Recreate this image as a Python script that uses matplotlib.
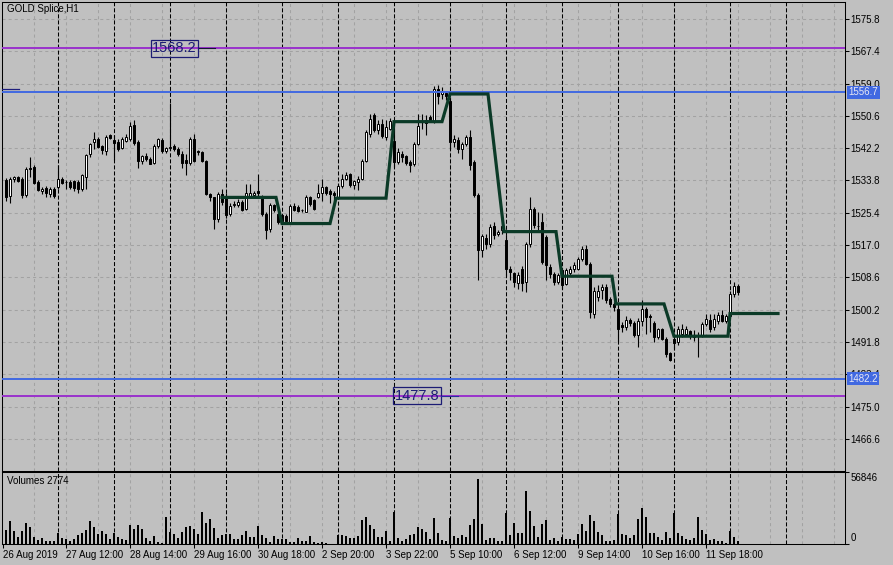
import matplotlib
matplotlib.use("Agg")
import matplotlib.pyplot as plt
import numpy as np

# hourly candles (bar index 0 = first visible bar)
opens = [1533.9, 1529.7, 1534.1, 1534.6, 1534.2, 1530.0, 1536.9, 1537.4, 1533.5, 1531.0,
         1531.9, 1530.4, 1531.5, 1532.0, 1534.3, 1533.3, 1533.5, 1533.6, 1533.3, 1531.7,
         1534.8, 1540.6, 1543.7, 1544.7, 1542.7, 1541.5, 1545.5, 1544.3, 1543.8, 1542.3,
         1544.1, 1544.6, 1548.2, 1543.7, 1538.9, 1540.2, 1539.3, 1538.4, 1542.8, 1544.3,
         1541.5, 1542.2, 1542.7, 1541.9, 1540.8, 1539.1, 1538.4, 1544.7, 1541.3, 1541.1,
         1538.9, 1530.3, 1529.4, 1523.7, 1530.4, 1529.6, 1525.2, 1527.5, 1527.4, 1528.3,
         1526.5, 1529.8, 1530.0, 1531.1, 1529.6, 1525.2, 1521.1, 1527.4, 1525.2, 1524.8,
         1524.5, 1523.1, 1527.1, 1527.0, 1526.1, 1525.7, 1529.4, 1528.7, 1529.6, 1530.6,
         1532.0, 1531.1, 1530.6, 1529.4, 1532.3, 1534.1, 1535.5, 1532.6, 1533.5, 1534.1,
         1538.9, 1546.0, 1550.8, 1546.9, 1548.5, 1545.2, 1547.3, 1544.0, 1538.7, 1540.8,
         1540.1, 1538.7, 1538.0, 1543.4, 1549.1, 1549.5, 1550.4, 1549.3, 1557.7, 1556.3,
         1556.6, 1554.5, 1543.9, 1544.3, 1542.1, 1543.3, 1545.2, 1538.7, 1530.0, 1515.7,
         1518.9, 1517.2, 1521.9, 1519.8, 1520.9, 1518.3, 1510.9, 1509.8, 1507.2, 1510.9,
         1507.5, 1517.4, 1526.3, 1522.0, 1523.1, 1519.2, 1511.4, 1509.6, 1507.5, 1510.5,
         1507.0, 1509.8, 1510.7, 1510.9, 1513.3, 1516.1, 1512.0, 1499.2, 1503.6, 1505.3,
         1506.2, 1503.1, 1501.8, 1500.3, 1496.2, 1495.6, 1497.5, 1496.8, 1493.6, 1497.3,
         1500.3, 1498.4, 1496.8, 1493.0, 1495.1, 1492.7, 1489.0, 1492.5, 1491.9, 1494.0,
         1494.0, 1494.7, 1493.6, 1493.6, 1493.6, 1496.5, 1497.5, 1495.6, 1497.3, 1498.8,
         1497.3, 1498.5, 1504.4, 1506.3]
highs = [1534.5, 1534.6, 1535.0, 1535.0, 1534.6, 1537.2, 1540.0, 1537.8, 1533.8, 1532.0,
         1532.4, 1532.2, 1532.0, 1537.8, 1534.8, 1533.8, 1533.8, 1534.0, 1533.8, 1535.6,
         1540.8, 1543.6, 1546.5, 1545.2, 1543.0, 1545.6, 1545.9, 1545.5, 1544.6, 1545.0,
         1546.0, 1549.0, 1549.5, 1544.2, 1540.5, 1541.0, 1539.8, 1543.4, 1544.8, 1544.8,
         1542.5, 1553.9, 1543.2, 1542.5, 1541.5, 1540.8, 1545.0, 1546.0, 1541.8, 1541.5,
         1539.2, 1530.6, 1529.6, 1530.8, 1531.5, 1530.5, 1528.0, 1528.5, 1529.0, 1528.6,
         1533.0, 1533.0, 1531.0, 1535.5, 1530.0, 1525.6, 1528.0, 1527.8, 1525.6, 1525.2,
         1525.0, 1527.6, 1528.0, 1527.4, 1526.5, 1530.0, 1529.8, 1529.0, 1533.0, 1534.1,
         1532.4, 1531.5, 1531.0, 1533.0, 1535.5, 1536.0, 1535.8, 1534.0, 1535.0, 1539.3,
         1547.0, 1551.2, 1551.4, 1549.5, 1549.8, 1549.5, 1550.0, 1549.0, 1542.2, 1541.5,
         1540.5, 1539.0, 1543.8, 1551.0, 1551.2, 1550.8, 1550.8, 1558.5, 1558.6, 1558.0,
         1557.0, 1555.5, 1545.5, 1545.0, 1543.8, 1545.6, 1546.9, 1539.0, 1530.5, 1520.0,
         1520.0, 1522.4, 1523.0, 1521.0, 1522.2, 1519.5, 1511.5, 1510.0, 1510.0, 1511.5,
         1517.8, 1529.6, 1527.0, 1525.7, 1525.4, 1519.5, 1512.0, 1510.0, 1509.7, 1511.0,
         1511.0, 1511.5, 1512.5, 1514.0, 1516.8, 1517.0, 1512.5, 1506.0, 1506.5, 1507.0,
         1506.8, 1503.5, 1502.2, 1500.8, 1497.0, 1498.5, 1498.0, 1497.2, 1498.0, 1502.8,
         1501.0, 1499.0, 1497.3, 1495.5, 1495.5, 1493.0, 1489.3, 1493.0, 1496.0, 1496.6,
         1496.0, 1495.0, 1495.0, 1494.5, 1497.0, 1499.2, 1499.0, 1499.0, 1499.5, 1500.2,
         1499.0, 1505.0, 1507.5, 1506.8]
lows = [1528.5, 1528.0, 1533.5, 1533.3, 1529.3, 1529.5, 1534.6, 1533.0, 1531.0, 1530.2,
        1529.6, 1529.6, 1529.3, 1531.7, 1533.0, 1531.7, 1531.5, 1531.0, 1530.5, 1531.0,
        1531.7, 1540.0, 1542.1, 1542.3, 1540.6, 1540.4, 1544.7, 1539.1, 1541.5, 1542.0,
        1543.8, 1544.0, 1543.0, 1537.0, 1538.0, 1538.8, 1538.0, 1538.0, 1542.3, 1541.0,
        1541.0, 1541.6, 1541.5, 1540.2, 1537.0, 1535.2, 1537.8, 1538.5, 1540.5, 1538.5,
        1530.0, 1528.5, 1521.3, 1523.0, 1527.5, 1524.0, 1524.5, 1527.0, 1526.8, 1525.8,
        1526.0, 1529.5, 1529.5, 1529.6, 1524.5, 1518.7, 1520.5, 1525.5, 1522.4, 1523.0,
        1522.9, 1522.8, 1525.8, 1525.6, 1525.7, 1525.5, 1527.2, 1526.0, 1529.2, 1528.5,
        1530.0, 1528.0, 1528.5, 1529.0, 1531.8, 1533.8, 1532.2, 1531.5, 1531.2, 1533.8,
        1538.5, 1545.2, 1546.5, 1546.0, 1544.8, 1544.3, 1546.8, 1537.4, 1538.0, 1538.5,
        1537.8, 1536.0, 1537.5, 1543.0, 1547.3, 1545.6, 1549.0, 1548.8, 1553.8, 1555.0,
        1554.7, 1542.1, 1542.5, 1541.0, 1539.5, 1542.8, 1536.5, 1529.5, 1507.9, 1514.0,
        1516.0, 1516.5, 1518.5, 1519.3, 1520.0, 1509.0, 1507.8, 1506.2, 1505.5, 1505.0,
        1504.9, 1516.5, 1521.5, 1520.9, 1512.0, 1508.0, 1508.5, 1506.5, 1507.0, 1505.5,
        1506.5, 1509.0, 1510.0, 1510.5, 1512.8, 1511.8, 1498.0, 1498.0, 1502.5, 1503.0,
        1502.0, 1501.0, 1499.8, 1491.9, 1494.5, 1495.0, 1496.0, 1493.0, 1490.4, 1496.0,
        1494.0, 1494.5, 1491.9, 1492.5, 1492.3, 1488.0, 1486.8, 1490.0, 1491.0, 1493.0,
        1493.5, 1492.5, 1492.0, 1488.0, 1493.0, 1496.0, 1494.5, 1495.0, 1496.5, 1497.0,
        1496.8, 1498.0, 1503.5, 1504.0]
closes = [1529.4, 1534.1, 1534.6, 1533.7, 1530.0, 1536.9, 1536.8, 1533.2, 1531.3, 1531.7,
          1530.6, 1531.7, 1529.7, 1534.3, 1533.2, 1533.5, 1532.0, 1531.9, 1531.7, 1535.2,
          1540.4, 1543.3, 1544.6, 1542.6, 1541.7, 1545.0, 1544.8, 1543.6, 1542.1, 1544.5,
          1545.2, 1547.9, 1543.6, 1538.9, 1540.1, 1539.3, 1538.2, 1542.7, 1544.6, 1541.4,
          1542.2, 1542.6, 1541.9, 1540.6, 1538.4, 1538.4, 1544.7, 1538.9, 1541.2, 1538.9,
          1530.3, 1529.4, 1523.7, 1530.3, 1528.3, 1524.8, 1527.1, 1527.8, 1528.3, 1526.1,
          1530.6, 1530.6, 1530.6, 1530.6, 1525.2, 1520.9, 1527.4, 1526.1, 1523.1, 1523.3,
          1523.3, 1527.1, 1526.1, 1525.9, 1526.2, 1529.4, 1527.8, 1526.5, 1530.6, 1532.0,
          1530.6, 1530.4, 1530.0, 1532.3, 1534.1, 1535.2, 1532.6, 1533.6, 1534.2, 1538.9,
          1546.5, 1549.9, 1547.0, 1548.5, 1545.3, 1547.6, 1549.3, 1538.7, 1541.3, 1539.8,
          1538.4, 1537.8, 1543.3, 1547.9, 1549.0, 1548.8, 1549.3, 1557.7, 1555.7, 1557.1,
          1555.7, 1543.9, 1544.7, 1541.9, 1543.3, 1545.2, 1537.8, 1530.0, 1515.7, 1519.3,
          1517.2, 1521.8, 1519.6, 1520.4, 1521.9, 1510.7, 1510.1, 1507.5, 1509.2, 1507.2,
          1517.4, 1526.3, 1522.2, 1521.9, 1512.7, 1511.8, 1509.6, 1507.5, 1509.2, 1506.6,
          1510.5, 1510.7, 1511.8, 1513.3, 1515.9, 1512.2, 1499.5, 1505.1, 1505.1, 1506.2,
          1502.7, 1501.7, 1500.8, 1495.3, 1495.6, 1497.5, 1496.8, 1493.6, 1497.3, 1500.3,
          1498.4, 1498.3, 1493.0, 1495.1, 1492.7, 1488.7, 1487.1, 1491.6, 1495.3, 1495.3,
          1495.1, 1493.3, 1493.0, 1493.5, 1496.5, 1497.9, 1495.1, 1497.9, 1498.8, 1497.3,
          1498.5, 1504.4, 1506.3, 1504.9]
volumes = [12243, 20114, 11660, 6413, 11369, 18656, 15158, 6413, 3498, 4956,
           2624, 2624, 2624, 9911, 4956, 4373, 2915, 4373, 7871, 9328,
           12243, 20114, 15158, 8745, 11369, 8745, 4373, 9911, 5830, 4373,
           3498, 16616, 13118, 16616, 13118, 4956, 2915, 6996, 2041, 1166,
           23612, 10786, 8745, 5539, 10786, 15158, 15741, 13118, 8745, 27984,
           18656, 21571, 13701, 4956, 7871, 8745, 8745, 4081, 4373, 7871,
           11660, 6413, 6413, 15741, 7871, 4956, 2041, 6996, 4081, 4081,
           4081, 2041, 1458, 4956, 2624, 2624, 6996, 2041, 1166, 2041,
           583, 292, 292, 7871, 7871, 6996, 4956, 5539, 6996, 20988,
           23320, 16616, 13118, 6413, 5830, 11369, 2915, 27693, 4956, 2624,
           4373, 7871, 8745, 15158, 13118, 10786, 4373, 23029, 9328, 3498,
           2624, 22446, 6996, 5539, 7871, 5830, 16616, 21571, 56846, 17490,
           3498, 4956, 4956, 2624, 2624, 26818, 7871, 18656, 9911, 9911,
           46349, 28859, 15741, 6413, 17490, 20988, 3498, 4956, 2624, 6413,
           4373, 4373, 3498, 8745, 17490, 11369, 25361, 20114, 10786, 7871,
           2915, 2915, 3498, 26235, 8745, 7871, 4956, 7871, 21863, 31191,
           23320, 9911, 9911, 5830, 3498, 10786, 4956, 27401, 9911, 6996,
           4373, 3498, 4956, 23320, 12243, 8745, 3498, 4373, 2624, 2624,
           1166, 11660, 6413, 2774]

# daily level line (dark green), vertices as bar index / price
step_bar = [54, 67.5, 69, 81, 82.5, 95, 97, 109, 111, 120.5,
            124.5, 137.5, 139, 151.5, 152.5, 164.5, 167, 180.5, 181, 193]
step_price = [1529.4, 1529.4, 1522.6, 1522.6, 1529.2, 1529.2, 1549.1, 1549.1, 1556.3, 1556.3,
              1520.5, 1520.5, 1508.9, 1508.9, 1501.7, 1501.7, 1493.3, 1493.3, 1499.2, 1499.2]

purple_levels = [1568.2, 1477.8]
blue_levels = [1556.7, 1482.2]

price_ticks = [1466.6, 1475.0, 1483.4, 1491.8, 1500.2, 1508.6, 1517.0,
               1525.4, 1533.8, 1542.2, 1550.6, 1559.0, 1567.4, 1575.8]
time_labels = ["26 Aug 2019", "27 Aug 12:00", "28 Aug 14:00", "29 Aug 16:00",
               "30 Aug 18:00", "2 Sep 20:00", "3 Sep 22:00", "5 Sep 10:00",
               "6 Sep 12:00", "9 Sep 14:00", "10 Sep 16:00", "11 Sep 18:00"]
time_label_bar = [-0.8, 15, 31, 47, 63, 79, 95, 111, 127, 143, 159, 175]
vol_max = 56846

BG = "#c0c0c0"
plt.rcParams.update({
    "font.family": ["Liberation Sans", "DejaVu Sans"],
    "font.size": 7,
    "lines.scale_dashes": False,
    "axes.linewidth": 0.75,
})

fig = plt.figure(figsize=(8.93, 5.65), dpi=100, facecolor=BG)
W, H = 893, 565
ax = fig.add_axes([2 / W, 1 - 471 / H, 843 / W, 469 / H], facecolor=BG)
axv = fig.add_axes([2 / W, 1 - 544 / H, 843 / W, 72 / H], facecolor=BG)

bars = np.arange(len(opens))
o = np.array(opens); c = np.array(closes)
hi = np.array(highs); lo = np.array(lows)
xlim = (-1.0, 209.75)

# grid + separators on both panels
for a in (ax, axv):
    for g in range(1, 27):
        a.axvline(8 * g - 1, color="#a2a2a2", lw=0.75, dashes=(2.2, 2.2), zorder=0)
    for s in range(14):
        a.axvline(13 + 14 * s, color="black", lw=0.75, dashes=(2.9, 1.45), zorder=0.5)
    a.set_xlim(*xlim)
for p in price_ticks:
    ax.axhline(p, color="#a2a2a2", lw=0.75, dashes=(2.2, 2.2), zorder=0)

# candles
ax.vlines(bars, lo, hi, color="black", lw=0.8, zorder=2)
up = c >= o
ax.bar(bars, np.maximum(np.abs(c - o), 0.15), bottom=np.minimum(o, c), width=0.6,
       color=np.where(up, "white", "black"), edgecolor="black", lw=0.7, zorder=2.5)

# horizontal levels
for p in purple_levels:
    ax.axhline(p, color="#9932cc", lw=1.4, zorder=3)
for p in blue_levels:
    ax.axhline(p, color="#4169e1", lw=1.4, zorder=3)

ax.plot(step_bar, step_price, color="#0b3a27", lw=2.3, zorder=4, solid_joinstyle="miter")

# level labels
navy = "#1c1c74"
ax.text(42.1, purple_levels[0], "1568.2", fontsize=10.5, color=navy, ha="center", va="center",
        zorder=5, bbox=dict(boxstyle="square,pad=0.1", fc="none", ec=navy, lw=0.9))
ax.plot([48.3, 52.3], [purple_levels[0]] * 2, color="#141432", lw=0.8, zorder=5)
ax.text(102.7, purple_levels[1], "1477.8", fontsize=10.5, color=navy, ha="center", va="center",
        zorder=5, bbox=dict(boxstyle="square,pad=0.1", fc="none", ec=navy, lw=0.9))
ax.plot([108.8, 113], [purple_levels[1]] * 2, color="#2a2aa0", lw=0.8, zorder=5)
ax.plot([-1, 3.3], [1557.5, 1557.5], color="#1e1e7c", lw=0.9, zorder=5)

ax.set_ylim(1458.24, 1580.22)
ax.set_xticks([])
ax.yaxis.tick_right()
ax.set_yticks(price_ticks)
ax.set_yticklabels([f"{p:.1f}" for p in price_ticks])
ax.tick_params(axis="y", length=3, width=0.75, pad=1, labelsize=7)
for p in blue_levels:
    ax.annotate(f"{p:.1f}", xy=(1, p), xycoords=("axes fraction", "data"),
                xytext=(2.5, 0), textcoords="offset points", ha="left", va="center",
                color="#e8e8f4", fontsize=7, annotation_clip=False,
                bbox=dict(boxstyle="square,pad=0.15", fc="#4169e1", ec="none"))
ax.annotate("GOLD Splice,H1", xy=(0, 1), xycoords="axes fraction", xytext=(3.5, -5),
            textcoords="offset points", ha="left", va="center", fontsize=7)

# volumes
axv.bar(bars, volumes, width=0.5, color="black", zorder=2)
axv.set_ylim(0, vol_max * 72 / 65)
axv.yaxis.tick_right()
axv.set_yticks([0, vol_max * 72 / 65])
axv.set_yticklabels(["", ""])
axv.tick_params(axis="y", length=3, width=0.75)
axv.annotate(str(vol_max), xy=(1, 1), xycoords="axes fraction", xytext=(4, -4.5),
             textcoords="offset points", ha="left", va="center", fontsize=7,
             annotation_clip=False)
axv.annotate("0", xy=(1, 0), xycoords="axes fraction", xytext=(4, 4.5),
             textcoords="offset points", ha="left", va="center", fontsize=7,
             annotation_clip=False)
axv.annotate(f"Volumes {volumes[-1]}", xy=(0, 1), xycoords="axes fraction", xytext=(3.5, -6.5),
             textcoords="offset points", ha="left", va="center", fontsize=7)
axv.set_xticks(time_label_bar)
axv.set_xticklabels(time_labels)
axv.tick_params(axis="x", length=3, width=0.75, pad=1, labelsize=7)
for lab in axv.get_xticklabels():
    lab.set_horizontalalignment("left")

fig.savefig("out.png", dpi=100, facecolor=BG)
